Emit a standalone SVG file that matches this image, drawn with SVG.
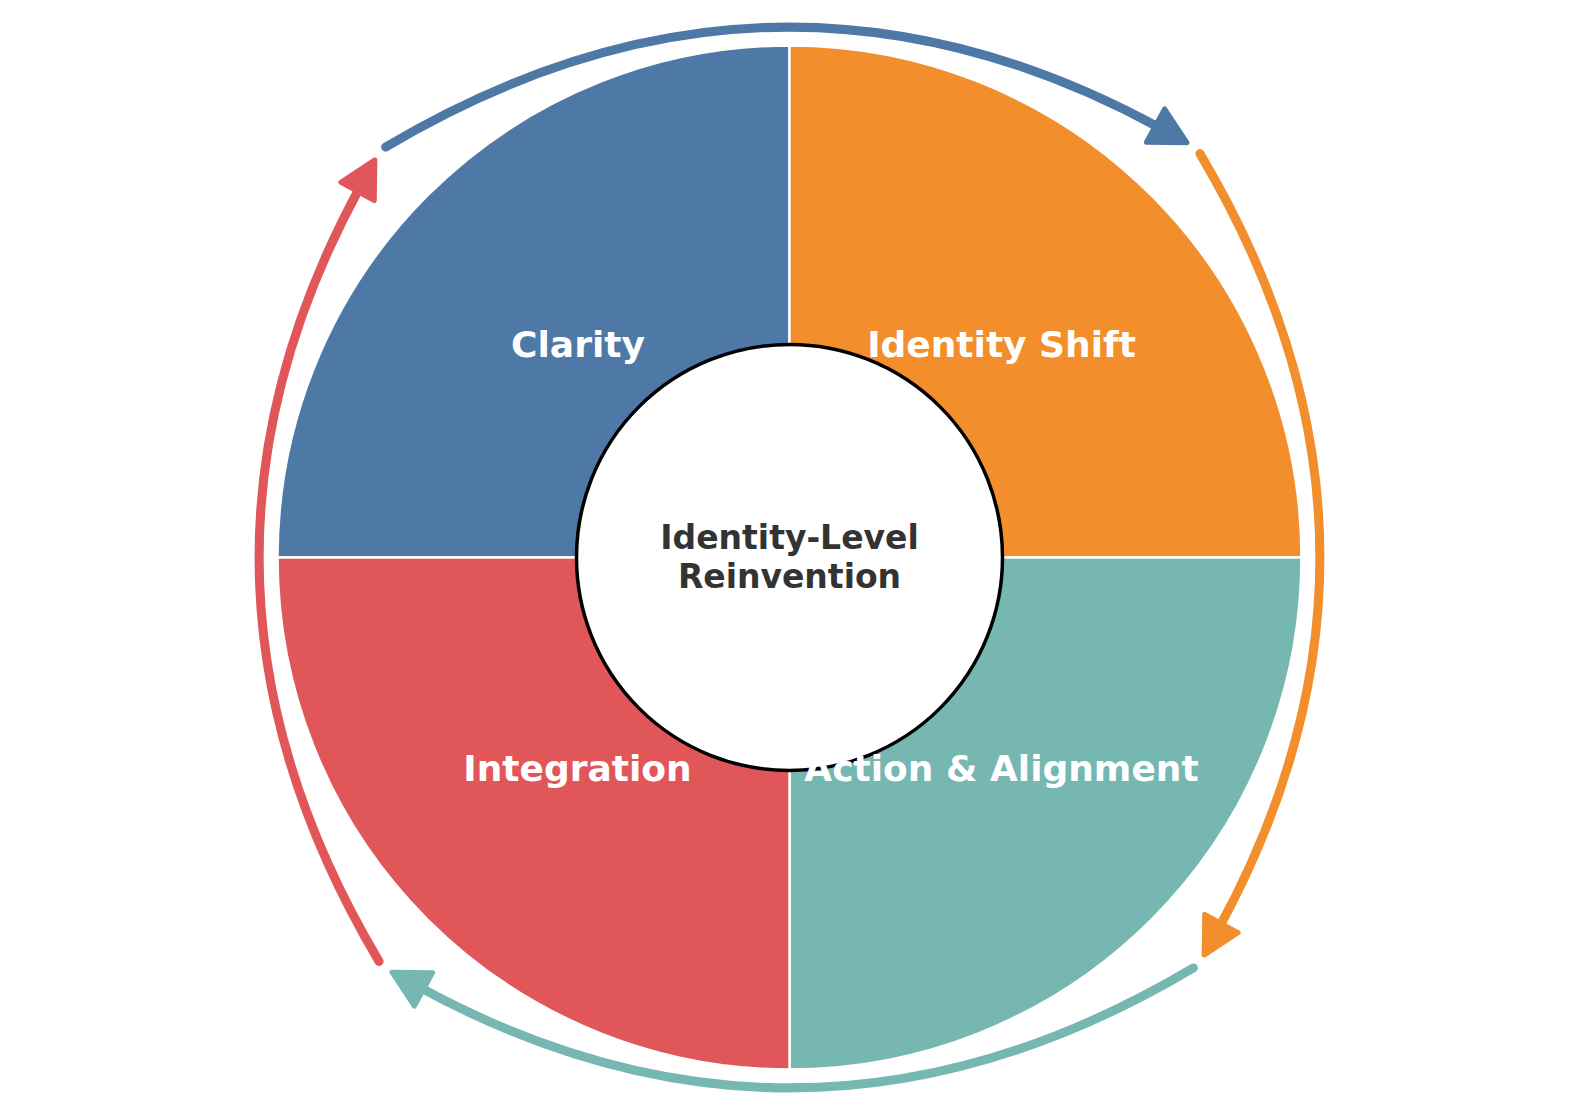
<svg xmlns="http://www.w3.org/2000/svg" width="1580" height="1112" viewBox="0 0 1580 1112">
  <style>
    .wedge { stroke: #ffffff; stroke-width: 2.5; stroke-linejoin: round; }
    .label { font-family: "DejaVu Sans", "Liberation Sans", sans-serif; font-weight: bold; font-size: 36px; fill: #ffffff; text-anchor: middle; }
    .center { font-family: "DejaVu Sans", "Liberation Sans", sans-serif; font-weight: bold; font-size: 33px; fill: #333333; text-anchor: middle; }
    .arc { fill: none; stroke-width: 9; stroke-linecap: round; }
  </style>
  <defs>
    <marker id="headBlue" markerUnits="userSpaceOnUse" orient="auto" refX="0" refY="0" markerWidth="60" markerHeight="60" viewBox="-10 -30 60 60" overflow="visible">
      <path d="M30,0 L-6,-19 L-6,19 Z" fill="#4E79A7" stroke="#4E79A7" stroke-width="5" stroke-linejoin="round"/>
    </marker>
    <marker id="headOrange" markerUnits="userSpaceOnUse" orient="auto" refX="0" refY="0" markerWidth="60" markerHeight="60" viewBox="-10 -30 60 60" overflow="visible">
      <path d="M30,0 L-6,-19 L-6,19 Z" fill="#F28E2B" stroke="#F28E2B" stroke-width="5" stroke-linejoin="round"/>
    </marker>
    <marker id="headTeal" markerUnits="userSpaceOnUse" orient="auto" refX="0" refY="0" markerWidth="60" markerHeight="60" viewBox="-10 -30 60 60" overflow="visible">
      <path d="M30,0 L-6,-19 L-6,19 Z" fill="#76B7B2" stroke="#76B7B2" stroke-width="5" stroke-linejoin="round"/>
    </marker>
    <marker id="headRed" markerUnits="userSpaceOnUse" orient="auto" refX="0" refY="0" markerWidth="60" markerHeight="60" viewBox="-10 -30 60 60" overflow="visible">
      <path d="M30,0 L-6,-19 L-6,19 Z" fill="#E15759" stroke="#E15759" stroke-width="5" stroke-linejoin="round"/>
    </marker>
  </defs>
  <rect width="1580" height="1112" fill="#ffffff"/>

  <g id="node-clarity">
    <path class="wedge" fill="#4E79A7" d="M789.5,557.5 L277.5,557.5 A512,512 0 0 1 789.5,45.5 Z"/>
  </g>
  <g id="node-identity-shift">
    <path class="wedge" fill="#F28E2B" d="M789.5,557.5 L789.5,45.5 A512,512 0 0 1 1301.5,557.5 Z"/>
  </g>
  <g id="node-action-alignment">
    <path class="wedge" fill="#76B7B2" d="M789.5,557.5 L1301.5,557.5 A512,512 0 0 1 789.5,1069.5 Z"/>
  </g>
  <g id="node-integration">
    <path class="wedge" fill="#E15759" d="M789.5,557.5 L789.5,1069.5 A512,512 0 0 1 277.5,557.5 Z"/>
  </g>

  <g id="node-center">
    <circle cx="789.5" cy="557.5" r="213" fill="#ffffff" stroke="#000000" stroke-width="3.5"/>
    <text class="center" x="789.5" y="549">Identity-Level</text>
    <text class="center" x="789.5" y="587.5">Reinvention</text>
  </g>

  <g id="labels">
    <text class="label" x="578" y="357">Clarity</text>
    <text class="label" x="1001.5" y="357">Identity Shift</text>
    <text class="label" x="1001.5" y="781">Action &amp; Alignment</text>
    <text class="label" x="577.5" y="781">Integration</text>
  </g>

  <g id="connectors">
    <path class="arc" stroke="#4E79A7" marker-end="url(#headBlue)" d="M385.58,147.06 Q773.18,-83.17 1160.78,128.46"/>
    <path class="arc" stroke="#F28E2B" marker-end="url(#headOrange)" transform="rotate(90 789.5 557.5)" d="M385.58,147.06 Q773.18,-83.17 1160.78,128.46"/>
    <path class="arc" stroke="#76B7B2" marker-end="url(#headTeal)" transform="rotate(180 789.5 557.5)" d="M385.58,147.06 Q773.18,-83.17 1160.78,128.46"/>
    <path class="arc" stroke="#E15759" marker-end="url(#headRed)" transform="rotate(270 789.5 557.5)" d="M385.58,147.06 Q773.18,-83.17 1160.78,128.46"/>
  </g>
</svg>
